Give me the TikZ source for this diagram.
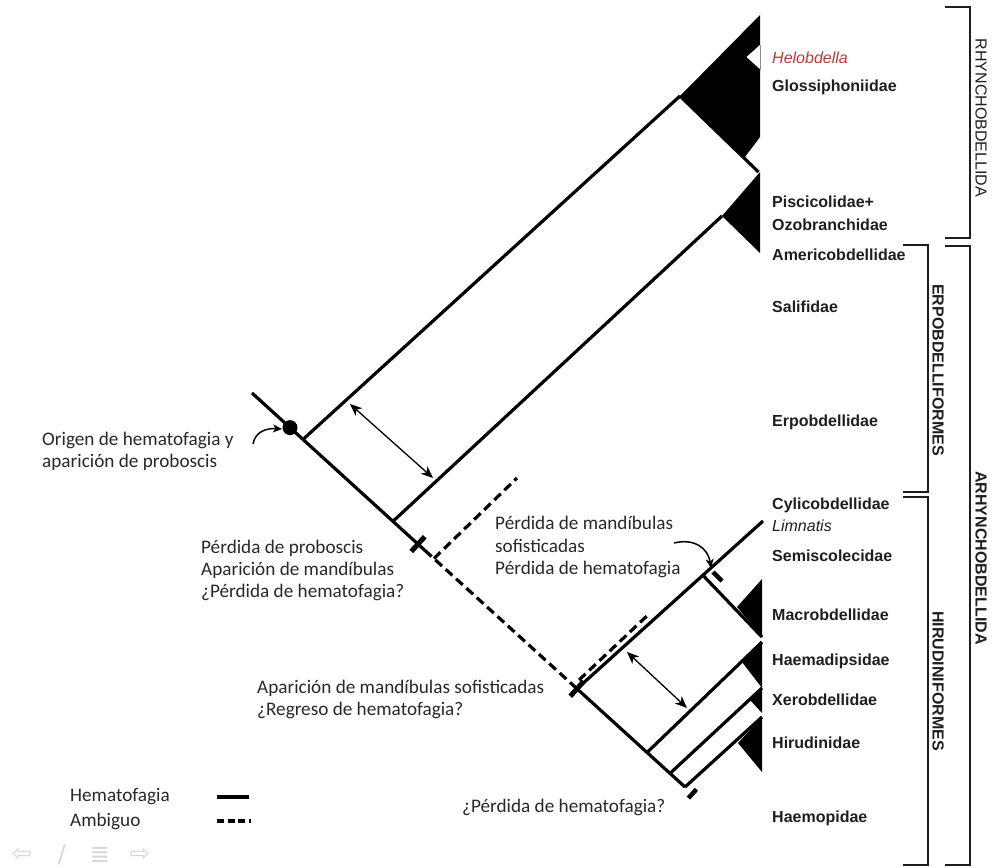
\documentclass[tikz,border=0pt]{standalone}
\usepackage{fontspec}
\setmainfont{Carlito}
\newfontfamily\lab{Liberation Sans}
\newfontfamily\symf{DejaVu Sans}
\usetikzlibrary{arrows.meta}
\definecolor{helo}{RGB}{180,60,55}
\definecolor{txtc}{RGB}{40,40,40}
\definecolor{labc}{RGB}{30,30,30}
\tikzset{
  br/.style={line width=3.2pt, line cap=butt, black},
  amb/.style={line width=3.2pt, dash pattern=on 9pt off 5pt, black},
  tri/.style={fill=black, draw=none},
  txt/.style={anchor=west, font=\fontsize{19.2}{22}\selectfont, text=txtc, inner sep=0pt},
  tax/.style={anchor=west, font=\lab\bfseries\fontsize{16}{18}\selectfont, text=labc, inner sep=0pt},
  grp/.style={rotate=-90, font=\lab\bfseries\fontsize{16}{18}\selectfont, text=labc, inner sep=0pt},
  brk/.style={line width=1.6pt, labc},
  dbl/.style={line width=1.3pt, {Stealth[length=12pt,width=10pt,inset=3.5pt]}-{Stealth[length=12pt,width=10pt,inset=3.5pt]}},
  cur/.style={line width=1.5pt, -{Stealth[length=9pt,width=8pt,inset=2.5pt]}},
  bar/.style={line width=5pt, black},
  nav/.style={font=\symf\fontsize{24}{26}\selectfont, text=black!16, inner sep=0pt},
}
\begin{document}
\begin{tikzpicture}[x=1pt,y=-1pt]
\useasboundingbox (0,0) rectangle (992,867);
% backbone coordinates
\coordinate (S) at (252,393);
\coordinate (D) at (290,427.6);
\coordinate (N1) at (303,439.4);
\coordinate (N2) at (393,521.3);
\coordinate (C1a) at (411.3,551.5);
\coordinate (C1b) at (424.7,536.7);
\coordinate (DS) at (425,550.5);
\coordinate (DB) at (434,558.5);
\coordinate (DBe) at (517,478);
\coordinate (C2) at (577,688.75);
\coordinate (C2a) at (570.3,696.2);
\coordinate (C2b) at (583.7,681.3);
\coordinate (N4) at (647,752.5);
\coordinate (N5) at (670,773.4);
\coordinate (E) at (685,787);
% Rhynchobdellida
\coordinate (A) at (680,96);
\coordinate (Gt) at (760,15);
\coordinate (Gb) at (760,137);
\coordinate (Gn) at (744,158.3);
\coordinate (Ge) at (758.5,172);
\coordinate (H1) at (746.5,57);
\coordinate (H2) at (761,44);
\coordinate (H3) at (761,70);
\coordinate (Pa) at (722,216);
\coordinate (Pt) at (760,172);
\coordinate (Pb) at (760,253);
% Hirudiniformes
\coordinate (Le) at (763,521);
\coordinate (M) at (703,575.4);
\coordinate (Ma) at (737,607);
\coordinate (Mt) at (762,579);
\coordinate (Mb) at (762,637);
\coordinate (Ht) at (762,642);
\coordinate (Ha) at (742,662);
\coordinate (Hb) at (762,688);
\coordinate (Xa) at (750,700);
\coordinate (Xb) at (762,713);
\coordinate (It) at (762,717);
\coordinate (Ia) at (738,743);
\coordinate (Ib) at (762,772);
\coordinate (D2s) at (579,680);
\coordinate (D2e) at (650,613);

% triangles
\fill[tri] (A) -- (Gt) -- (Gb) -- (Gn) -- cycle;
\fill[white] (H1) -- (H2) -- (H3) -- cycle;
\draw[line width=0.8pt, black!45] (760,45) -- (760,70);
\fill[tri] (Pa) -- (Pt) -- (Pb) -- cycle;
\fill[tri] (Ma) -- (Mt) -- (Mb) -- cycle;
\fill[tri] (Ha) -- (Ht) -- (Hb) -- cycle;
\fill[tri] (Xa) -- (Hb) -- (Xb) -- cycle;
\fill[tri] (Ia) -- (It) -- (Ib) -- cycle;

% backbone
\draw[br] (S) -- (DS);
\draw[amb] (DS) -- (C2);
\draw[br] (C2) -- (E);
\fill (D) circle (7.5);
\draw[bar] (C1a) -- (C1b);
\draw[bar] (C2a) -- (C2b);
\draw[bar, line width=4.5pt] (688.4,798.1) coordinate (T1) -- (696.4,789.3) coordinate (T2);

% branches
\draw[br] (N1) -- (A);
\draw[br] (A) -- (Ge);
\draw[br] (N2) -- (Pa);
\draw[amb] (DB) -- (DBe);
\draw[br] (C2) -- (Le);
\draw[br] (M) -- (Mb);
\draw[amb] (D2s) -- (D2e);
\draw[br] (N4) -- (Ht);
\draw[br] (N5) -- (Hb);
\draw[br] (E) -- (It);
\draw[bar, line width=4.5pt] (713,572) coordinate (T3) -- (722,581) coordinate (T4);

% double arrows
\coordinate (R1a) at (350,404);
\coordinate (R1b) at (433,478);
\coordinate (R2a) at (627,652);
\coordinate (R2b) at (687,708);
\draw[dbl] (R1a) -- (R1b);
\draw[dbl] (R2a) -- (R2b);

% curved arrows
\coordinate (K1a) at (253,444);
\coordinate (K1b) at (282,429);
\draw[cur] (K1a) .. controls (255,432) and (266,428) .. (K1b);
\coordinate (K2a) at (674,543);
\coordinate (K2b) at (711,568);
\draw[cur] (K2a) .. controls (694,538) and (708,548) .. (K2b);

% left annotations
\node[txt] (o1) at (42,440) {Origen de hematofagia y};
\node[txt] (o2) at (42,462) {aparición de proboscis};
\node[txt] (p1) at (201,548) {Pérdida de proboscis};
\node[txt] (p2) at (201,570) {Aparición de mandíbulas};
\node[txt] (p3) at (201,592) {¿Pérdida de hematofagia?};
\node[txt] (q1) at (495,523) {Pérdida de mandíbulas};
\node[txt] (q2) at (495,546) {sofisticadas};
\node[txt] (q3) at (495,569) {Pérdida de hematofagia};
\node[txt] (r1) at (257,688) {Aparición de mandíbulas sofisticadas};
\node[txt] (r2) at (257,710) {¿Regreso de hematofagia?};
\node[txt] (s1) at (462,807) {¿Pérdida de hematofagia?};

% legend
\node[txt] (lg1) at (70,797) {Hematofagia};
\node[txt] (lg2) at (70,821) {Ambiguo};
\coordinate (L1a) at (217,797);
\coordinate (L1b) at (249,797);
\coordinate (L2a) at (217,821);
\coordinate (L2b) at (251,821);
\draw[line width=3.5pt] (L1a) -- (L1b);
\draw[line width=3.5pt, dash pattern=on 7pt off 3.5pt] (L2a) -- (L2b);

% taxa
\node[tax, font=\lab\itshape\fontsize{16}{18}\selectfont, text=helo] (t1) at (772,58) {Helobdella};
\node[tax] (t2) at (772,87) {Glossiphoniidae};
\node[tax] (t3) at (772,202) {Piscicolidae+};
\node[tax] (t4) at (772,225) {Ozobranchidae};
\node[tax] (t5) at (772,255) {Americobdellidae};
\node[tax] (t6) at (772,307) {Salifidae};
\node[tax] (t7) at (772,422) {Erpobdellidae};
\node[tax] (t8) at (772,505) {Cylicobdellidae};
\node[tax, font=\lab\itshape\fontsize{16}{18}\selectfont] (t9) at (772,526) {Limnatis};
\node[tax] (t10) at (772,556) {Semiscolecidae};
\node[tax] (t11) at (772,615) {Macrobdellidae};
\node[tax] (t12) at (772,661) {Haemadipsidae};
\node[tax] (t13) at (772,700) {Xerobdellidae};
\node[tax] (t14) at (772,743) {Hirudinidae};
\node[tax] (t15) at (772,818) {Haemopidae};

% brackets
\draw[brk] (945,7) -- (970,7) -- (970,238) -- (945,238);
\draw[brk] (903,245) -- (928,245) -- (928,492) -- (903,492);
\draw[brk] (945,246) -- (970,246) -- (970,865) -- (945,865);
\draw[brk] (903,497) -- (928,497) -- (928,865) -- (903,865);
\node[grp, font=\lab\fontsize{16}{18}\selectfont] (g1) at (981,118) {RHYNCHOBDELLIDA};
\node[grp] (g2) at (938,370) {ERPOBDELLIFORMES};
\node[grp] (g3) at (938,681) {HIRUDINIFORMES};
\node[grp] (g4) at (981,558) {ARHYNCHOBDELLIDA};

% slide navigation icons
\node[nav] (nv1) at (22,855) {⇦};
\node[nav] (nv2) at (62,855) {∕};
\node[nav] (nv3) at (100,855) {≣};
\node[nav] (nv4) at (140,855) {⇨};
\end{tikzpicture}
\end{document}
